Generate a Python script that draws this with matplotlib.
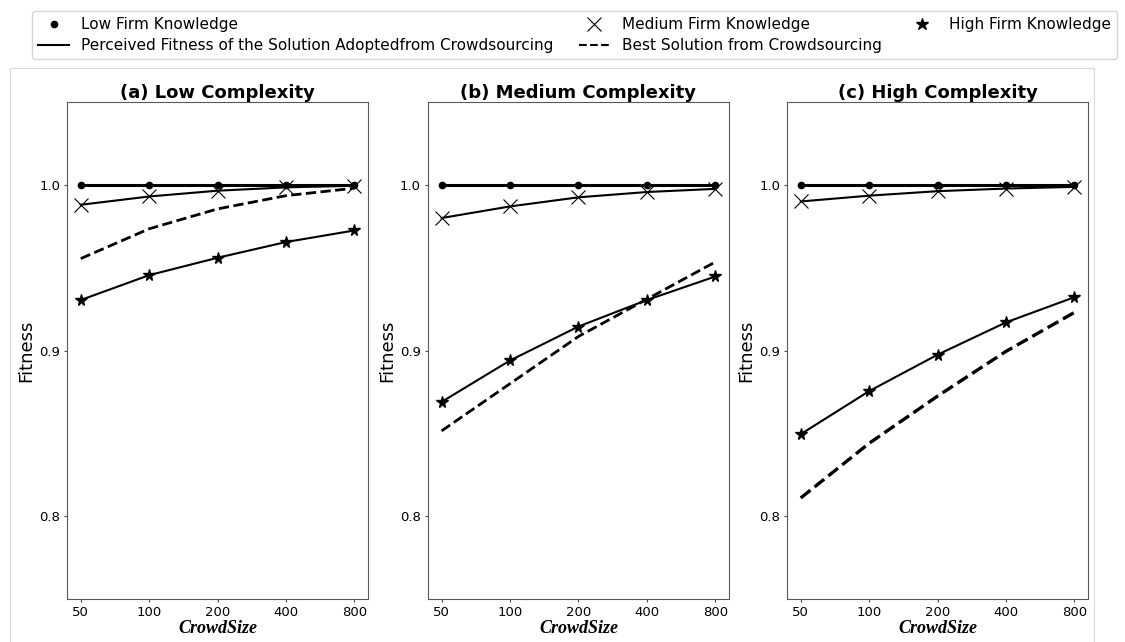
import numpy as np
import matplotlib
matplotlib.use("Agg")
from matplotlib import pyplot as plt
from matplotlib.lines import Line2D
from matplotlib.patches import Rectangle

# %% Data --------------------------------------------------------------------------------------------------------------
crowd_sizes = ["50", "100", "200", "400", "800"]
titles = ["(a) Low Complexity", "(b) Medium Complexity", "(c) High Complexity"]

# perceived fitness of the adopted solution, per firm knowledge level
low_knowledge = [
    [1.0, 1.0, 1.0, 1.0, 1.0],
    [1.0, 1.0, 1.0, 1.0, 1.0],
    [1.0, 1.0, 1.0, 1.0, 1.0],
]
medium_knowledge = [
    [0.988, 0.993, 0.9965, 0.9985, 0.9995],
    [0.980, 0.987, 0.9925, 0.9957, 0.9976],
    [0.990, 0.9935, 0.9962, 0.9978, 0.9988],
]
high_knowledge = [
    [0.9305, 0.9455, 0.956, 0.9655, 0.9725],
    [0.8690, 0.8940, 0.9145, 0.9305, 0.9447],
    [0.8495, 0.8755, 0.8975, 0.9170, 0.9322],
]
# best solution generated by the crowd
best_solution = [
    [0.9555, 0.9735, 0.9855, 0.9935, 0.998],
    [0.8515, 0.8800, 0.9085, 0.9310, 0.9535],
    [0.8110, 0.8440, 0.8725, 0.8995, 0.9230],
]

# %% Plot --------------------------------------------------------------------------------------------------------------
fig = plt.figure(figsize=(11.25, 6.42), dpi=100)

lefts = [0.0596, 0.3804, 0.6996]
width = 0.2676
bottom, height = 0.0670, 0.7740
x = np.arange(len(crowd_sizes))

for i in range(3):
    ax = fig.add_axes([lefts[i], bottom, width, height])
    ax.plot(x, low_knowledge[i], color="black", lw=2.2, marker="o", markersize=4.5)
    ax.plot(x, medium_knowledge[i], color="black", lw=1.5, marker="x", markersize=10, markeredgewidth=0.8)
    ax.plot(x, best_solution[i], color="black", lw=2.0 if i < 2 else 2.4, ls="--")
    ax.plot(x, high_knowledge[i], color="black", lw=1.5, marker="*", markersize=8.5)

    ax.set_ylim(0.75, 1.05)
    ax.set_yticks([0.8, 0.9, 1.0])
    ax.set_xticks(x)
    ax.set_xticklabels(crowd_sizes)
    ax.tick_params(labelsize=9.5, color="0.3", length=2.5, pad=2.5)
    for s in ax.spines.values():
        s.set_color("0.35")
    ax.set_title(titles[i], fontsize=13, fontweight="bold", pad=3)
    ax.set_ylabel("Fitness", fontsize=13, labelpad=3)
    ax.set_xlabel("CrowdSize", fontsize=13, family="Liberation Serif", fontweight="bold",
                  style="italic", labelpad=1)

# light frame around the panels
fig.patches.append(Rectangle((0.009, -0.01), 0.963, 0.904, transform=fig.transFigure,
                             fill=False, edgecolor="0.85", lw=0.8))

handles = [
    Line2D([], [], color="black", ls="", marker="o", markersize=4.5),
    Line2D([], [], color="black", lw=1.5),
    Line2D([], [], color="black", ls="", marker="x", markersize=10, markeredgewidth=0.8),
    Line2D([], [], color="black", lw=1.5, ls="--"),
    Line2D([], [], color="black", ls="", marker="*", markersize=9),
]
labels = [
    "Low Firm Knowledge",
    "Perceived Fitness of the Solution Adoptedfrom Crowdsourcing",
    "Medium Firm Knowledge",
    "Best Solution from Crowdsourcing",
    "High Firm Knowledge",
]
fig.legend(handles, labels, ncol=3, loc="upper center", bbox_to_anchor=(0.511, 0.983),
           fontsize=11, frameon=True, fancybox=True, edgecolor="0.8", borderaxespad=0,
           columnspacing=1.65, labelspacing=0.4)

plt.savefig("out.png", dpi=100)
